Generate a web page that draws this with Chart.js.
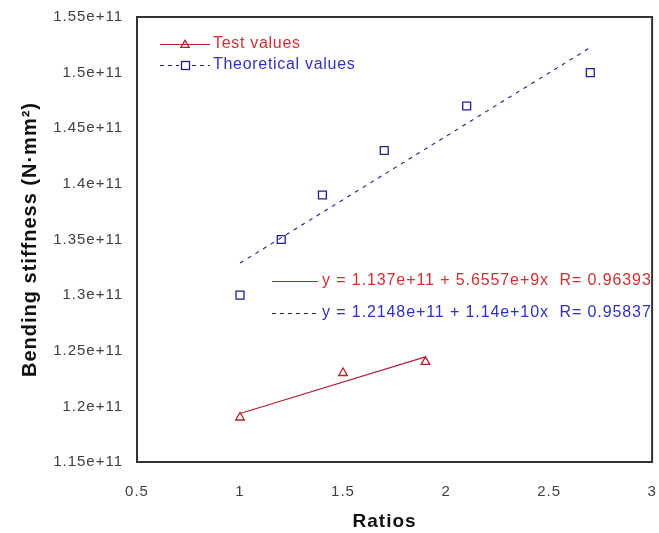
<!DOCTYPE html>
<html>
<head>
<meta charset="utf-8">
<script src="https://cdn.jsdelivr.net/npm/chart.js@4/dist/chart.umd.min.js"></script>
<style>
  body { margin: 0; background: #fff; }
  #wrap { width: 659px; height: 533px; }
</style>
</head>
<body>
<div id="wrap"><canvas id="chart" width="659" height="533"></canvas></div>
<script>
// measured points
const ratiosTest = [1, 1.5, 1.9];
const stiffnessTest = [1.19e11, 1.23e11, 1.24e11];
const ratiosTheory = [1, 1.2, 1.4, 1.7, 2.1, 2.7];
const stiffnessTheory = [1.30e11, 1.35e11, 1.39e11, 1.43e11, 1.47e11, 1.50e11];

// fitted lines (end points)
const fitTestX = [1, 1.9];
const fitTestY = [1.1936e11, 1.2445e11];
const fitTheoryX = [1, 2.7];
const fitTheoryY = [1.3288e11, 1.5226e11];

// axis ticks
const xTickValues = [0.5, 1, 1.5, 2, 2.5, 3];
const yTickValues = [1.15e11, 1.2e11, 1.25e11, 1.3e11, 1.35e11, 1.4e11, 1.45e11, 1.5e11, 1.55e11];

const fitTestLabel = 'y = 1.137e+11 + 5.6557e+9x  R= 0.96393';
const fitTheoryLabel = 'y = 1.2148e+11 + 1.14e+10x  R= 0.95837';

const RED = '#b3202c';
const RED_TEXT = '#d03030';
const BLUE = '#1e1e96';
const BLUE_TEXT = '#3030c0';
const FONT = '"Liberation Sans", Arial, sans-serif';

const toPoints = (xs, ys) => xs.map((x, i) => ({ x: x, y: ys[i] }));

function drawTriangle(ctx, x, y, r) {
  ctx.beginPath();
  ctx.moveTo(x, y - r);
  ctx.lineTo(x + r * 0.87, y + r * 0.5);
  ctx.lineTo(x - r * 0.87, y + r * 0.5);
  ctx.closePath();
  ctx.stroke();
}

function drawSquare(ctx, x, y, s) {
  ctx.strokeRect(x - s / 2, y - s / 2, s, s);
}

// the original text is set a little wide
const wideText = {
  id: 'wideText',
  beforeDraw(chart) {
    chart.ctx.letterSpacing = '1px';
  }
};

const boxAndNotes = {
  id: 'boxAndNotes',
  afterDraw(chart) {
    const ctx = chart.ctx;
    const a = chart.chartArea;
    ctx.save();
    ctx.strokeStyle = '#333';
    ctx.lineWidth = 2;
    ctx.strokeRect(a.left, a.top, a.right - a.left, a.bottom - a.top);

    ctx.textBaseline = 'middle';
    ctx.textAlign = 'left';

    // legend
    ctx.font = '16px ' + FONT;
    ctx.letterSpacing = '0.7px';
    ctx.lineWidth = 1;
    ctx.strokeStyle = RED;
    ctx.beginPath();
    ctx.moveTo(160, 44.5); ctx.lineTo(210, 44.5);
    ctx.stroke();
    ctx.lineWidth = 1.3;
    drawTriangle(ctx, 185, 45, 4.8);
    ctx.fillStyle = RED_TEXT;
    ctx.fillText('Test values', 213, 44);

    ctx.lineWidth = 1;
    ctx.strokeStyle = BLUE;
    ctx.setLineDash([4, 4]);
    ctx.beginPath();
    ctx.moveTo(160, 65.5); ctx.lineTo(179, 65.5);
    ctx.moveTo(192, 65.5); ctx.lineTo(210, 65.5);
    ctx.stroke();
    ctx.setLineDash([]);
    ctx.lineWidth = 1.3;
    drawSquare(ctx, 185.5, 65.5, 8);
    ctx.fillStyle = BLUE_TEXT;
    ctx.fillText('Theoretical values', 213, 65);

    // fit equations
    ctx.letterSpacing = '0.9px';
    ctx.lineWidth = 1;
    ctx.strokeStyle = RED;
    ctx.beginPath();
    ctx.moveTo(272, 281.5); ctx.lineTo(318, 281.5);
    ctx.stroke();
    ctx.fillStyle = RED_TEXT;
    ctx.fillText(fitTestLabel, 322, 281);

    ctx.strokeStyle = BLUE;
    ctx.setLineDash([4, 4]);
    ctx.beginPath();
    ctx.moveTo(272, 313.5); ctx.lineTo(318, 313.5);
    ctx.stroke();
    ctx.setLineDash([]);
    ctx.fillStyle = BLUE_TEXT;
    ctx.fillText(fitTheoryLabel, 322, 313);
    ctx.restore();
  }
};

new Chart(document.getElementById('chart'), {
  type: 'scatter',
  data: {
    datasets: [
      {
        label: 'Test values',
        data: toPoints(ratiosTest, stiffnessTest),
        pointStyle: 'triangle',
        pointRadius: 5,
        pointBorderWidth: 1.3,
        borderColor: RED,
        backgroundColor: 'rgba(255,255,255,0)',
        showLine: false,
        order: 0
      },
      {
        label: 'Theoretical values',
        data: toPoints(ratiosTheory, stiffnessTheory),
        pointStyle: 'rect',
        pointRadius: 5.6,
        pointBorderWidth: 1.3,
        borderColor: BLUE,
        backgroundColor: 'rgba(255,255,255,0)',
        showLine: false,
        order: 0
      },
      {
        label: 'Test fit',
        data: toPoints(fitTestX, fitTestY),
        showLine: true,
        pointRadius: 0,
        borderColor: RED,
        borderWidth: 1.1,
        order: 1
      },
      {
        label: 'Theory fit',
        data: toPoints(fitTheoryX, fitTheoryY),
        showLine: true,
        pointRadius: 0,
        borderColor: BLUE,
        borderWidth: 1.1,
        borderDash: [4, 5],
        order: 1
      }
    ]
  },
  options: {
    responsive: false,
    animation: false,
    layout: { padding: { left: 0, top: 17, right: 4, bottom: 0 } },
    plugins: {
      legend: { display: false },
      tooltip: { enabled: false }
    },
    scales: {
      x: {
        type: 'linear',
        min: 0.5,
        max: 3,
        afterBuildTicks: (axis) => { axis.ticks = xTickValues.map(v => ({ value: v })); },
        afterFit: (axis) => {
          axis.height = 71;
          axis.paddingLeft = 0;
          axis.paddingRight = 0;
        },
        grid: { display: false, drawTicks: false },
        border: { display: false },
        ticks: {
          padding: 21,
          color: '#404040',
          font: { family: FONT, size: 15 },
          callback: (v) => String(v)
        },
        title: {
          display: true,
          // em space keeps the title a bit left of centre, as in the original
          text: 'Ratios\u2003',
          color: '#111',
          padding: { top: 0, bottom: 0 },
          font: { family: FONT, size: 19, weight: 'bold' }
        }
      },
      y: {
        type: 'linear',
        min: 1.15e11,
        max: 1.55e11,
        afterBuildTicks: (axis) => { axis.ticks = yTickValues.map(v => ({ value: v })); },
        afterFit: (axis) => {
          axis.width = 137;
          axis.paddingTop = 0;
          axis.paddingBottom = 0;
        },
        grid: { display: false, drawTicks: false },
        border: { display: false },
        ticks: {
          padding: 14,
          color: '#404040',
          font: { family: FONT, size: 15 },
          callback: (v) => Number((v / 1e11).toFixed(2)) + 'e+11'
        },
        title: {
          display: true,
          text: 'Bending stiffness (N·mm²)',
          color: '#111',
          padding: { top: 18, bottom: 0 },
          font: { family: FONT, size: 20, weight: 'bold' }
        }
      }
    }
  },
  plugins: [wideText, boxAndNotes]
});
</script>
</body>
</html>
